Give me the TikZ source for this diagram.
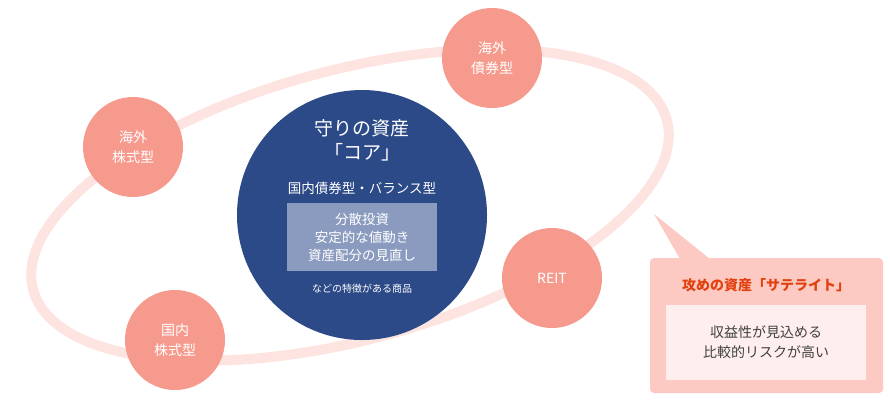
\documentclass[tikz,border=0pt]{standalone}
\usepackage{fontspec}
\setmainfont{Noto Sans CJK JP}
\usetikzlibrary{positioning}
\definecolor{ringpink}{HTML}{FDE4E1}
\definecolor{salmon}{HTML}{F79A8E}
\definecolor{corenavy}{HTML}{2C4A87}
\definecolor{coregray}{HTML}{8A9BBF}
\definecolor{calloutpink}{HTML}{FCC9C3}
\definecolor{innerpink}{HTML}{FEEFEE}
\definecolor{attackred}{HTML}{E2410F}
\tikzset{
  asset/.style={circle, fill=salmon, minimum size=100pt, inner sep=0pt, align=center, text=white, font=\fontsize{14}{20}\selectfont},
  smalltext/.style={text=white, align=center}
}
\begin{document}
\begin{tikzpicture}[x=1pt,y=-1pt]
\useasboundingbox (0,0) rectangle (890,400);
% ring
\draw[ringpink, line width=10pt, rotate around={15:(350,205)}] (350,205) ellipse [x radius=328, y radius=135];
% core
\node[circle, fill=corenavy, minimum size=250pt, inner sep=0pt] (core) at (362,215) {};
\node[smalltext, font=\fontsize{19}{24}\selectfont] (coretitle) at (362,140) {守りの資産\\「コア」};
\node[smalltext, font=\fontsize{13.5}{16}\selectfont] (coresub) at (362,188) {国内債券型・バランス型};
\node[fill=coregray, minimum width=150pt, minimum height=68pt, smalltext, font=\fontsize{13.5}{18}\selectfont] (corebox) at (362,237) {分散投資\\安定的な値動き\\資産配分の見直し};
\node[smalltext, font=\fontsize{10}{12}\selectfont] (corenote) at (362,289) {などの特徴がある商品};
% satellites
\node[asset] (bondf) at (492,58) {海外\\債券型};
\node[asset] (stockf) at (133,147) {海外\\株式型};
\node[asset] (stockd) at (175,340) {国内\\株式型};
\node[asset] (reit) at (552,278) {REIT};
% callout
\fill[calloutpink] (680,259) -- (654,214) -- (710,259) -- cycle;
\node[fill=calloutpink, rounded corners=4pt, minimum width=233pt, minimum height=135pt, inner sep=0pt] (callout) at (766.5,325.5) {};
\node[text=attackred, font=\bfseries\fontsize{14}{16}\selectfont] (callouttitle) at (766,285) {攻めの資産「サテライト」};
\node[fill=innerpink, minimum width=200pt, minimum height=75pt, align=center, text=black!75, font=\fontsize{14}{20}\selectfont] (calloutbox) at (766,342.5) {収益性が見込める\\比較的リスクが高い};
\end{tikzpicture}
\end{document}
